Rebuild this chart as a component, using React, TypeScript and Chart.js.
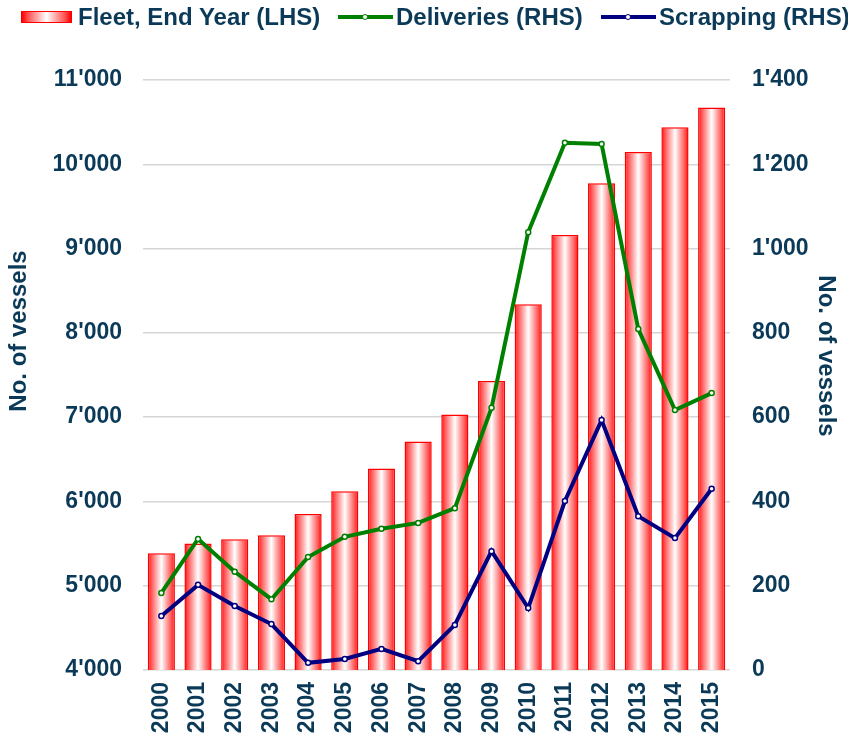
import React, { useEffect, useRef } from "react";
import { Chart, registerables } from "chart.js";

Chart.register(...registerables);

const years = ["2000","2001","2002","2003","2004","2005","2006","2007","2008","2009","2010","2011","2012","2013","2014","2015"];
const fleet = [5385, 5500, 5550, 5600, 5850, 6120, 6390, 6710, 7030, 7430, 8340, 9160, 9775, 10145, 10440, 10675];
const deliveries = [183, 311, 233, 168, 268, 316, 335, 349, 384, 622, 1039, 1251, 1248, 809, 617, 657];
const scrapping = [128, 202, 152, 109, 17, 26, 50, 21, 107, 282, 147, 401, 593, 365, 313, 430];

const TEXT = "#0B3A58";
const FONT = "'Liberation Sans', Arial, sans-serif";
const GREEN = "#008000";
const NAVY = "#000080";

function fmt(v: number) {
  const n = Math.round(v);
  if (n >= 1000) {
    const th = Math.floor(n / 1000);
    const rest = String(n % 1000).padStart(3, "0");
    return th + "'" + rest;
  }
  return String(n);
}

const BAR_PCT = 0.74;

const titlesPlugin = {
  id: "axisTitles",
  afterDraw(chart: any) {
    const ctx = chart.ctx;
    const ca = chart.chartArea;
    const mid = (ca.top + ca.bottom) / 2;
    ctx.save();
    ctx.fillStyle = TEXT;
    ctx.font = `bold 24px ${FONT}`;
    ctx.textAlign = "center";
    ctx.textBaseline = "middle";
    ctx.save();
    ctx.translate(19, mid - 44);
    ctx.rotate(-Math.PI / 2);
    ctx.fillText("No. of vessels", 0, 0);
    ctx.restore();
    ctx.save();
    ctx.translate(826, mid - 19);
    ctx.rotate(Math.PI / 2);
    ctx.fillText("No. of vessels", 0, 0);
    ctx.restore();
    ctx.restore();
  },
};

function barGradient(c: any) {
  const chart = c.chart;
  const xs = chart.scales && chart.scales.x;
  if (!xs || !chart.chartArea || c.dataIndex === undefined) return "#ff0000";
  const cx = xs.getPixelForValue(c.dataIndex);
  const w = (xs.width / years.length) * BAR_PCT;
  const g = chart.ctx.createLinearGradient(cx - w / 2, 0, cx + w / 2, 0);
  g.addColorStop(0, "#ff0000");
  g.addColorStop(0.12, "#ff5050");
  g.addColorStop(0.5, "#ffffff");
  g.addColorStop(0.88, "#ff5050");
  g.addColorStop(1, "#ff0000");
  return g;
}

function LegendLine({ color, left }: { color: string; left: number }) {
  return (
    <div style={{ position: "absolute", left, top: 10, width: 55, height: 14 }}>
      <div style={{ position: "absolute", left: 0, right: 0, top: 5, height: 4, background: color }} />
      <div style={{ position: "absolute", left: 24, top: 4, width: 4, height: 4, borderRadius: 4, background: "#fff", border: `1px solid ${color}` }} />
    </div>
  );
}

export default function App() {
  const ref = useRef<HTMLCanvasElement | null>(null);
  useEffect(() => {
    if (!ref.current) return;
    const chart = new Chart(ref.current, {
      type: "bar",
      data: {
        labels: years,
        datasets: [
          {
            type: "line",
            label: "Scrapping (RHS)",
            data: scrapping,
            yAxisID: "y1",
            borderColor: NAVY,
            borderWidth: 4,
            pointRadius: 2.5,
            pointBackgroundColor: "#ffffff",
            pointBorderColor: NAVY,
            pointBorderWidth: 1.5,
            tension: 0,
            order: 0,
          } as any,
          {
            type: "line",
            label: "Deliveries (RHS)",
            data: deliveries,
            yAxisID: "y1",
            borderColor: GREEN,
            borderWidth: 4,
            pointRadius: 2.5,
            pointBackgroundColor: "#ffffff",
            pointBorderColor: GREEN,
            pointBorderWidth: 1.5,
            tension: 0,
            order: 1,
          } as any,
          {
            type: "bar",
            label: "Fleet, End Year (LHS)",
            data: fleet,
            yAxisID: "y",
            backgroundColor: barGradient,
            borderColor: "#ff0000",
            borderWidth: 1.5,
            categoryPercentage: 1,
            barPercentage: BAR_PCT,
            order: 2,
          } as any,
        ],
      },
      options: {
        responsive: false,
        animation: false,
        layout: { padding: { top: 80, left: 0, right: 0, bottom: 0 } },
        plugins: { legend: { display: false }, tooltip: { enabled: false } },
        scales: {
          x: {
            grid: { display: false, drawTicks: false },
            border: { display: false },
            ticks: {
              color: TEXT,
              font: { family: FONT, size: 23, weight: "bold" },
              minRotation: 90,
              maxRotation: 90,
              padding: 12,
              autoSkip: false,
            },
            afterFit(s: any) { s.height = 69; },
          },
          y: {
            position: "left",
            min: 4000,
            max: 11000,
            grid: { color: "#d6d6d6", lineWidth: 1.5, drawTicks: false },
            border: { display: false },
            ticks: {
              stepSize: 1000,
              color: TEXT,
              font: { family: FONT, size: 23, weight: "bold" },
              padding: 21,
              callback: (v: any) => fmt(Number(v)),
            },
            afterFit(s: any) { s.width = 143; },
          },
          y1: {
            position: "right",
            min: 0,
            max: 1400,
            grid: { display: false, drawTicks: false },
            border: { display: false },
            ticks: {
              stepSize: 200,
              color: TEXT,
              font: { family: FONT, size: 23, weight: "bold" },
              padding: 22,
              callback: (v: any) => fmt(Number(v)),
            },
            afterFit(s: any) { s.width = 118; },
          },
        },
      } as any,
      plugins: [titlesPlugin],
    });
    return () => chart.destroy();
  }, []);

  const legendText: React.CSSProperties = {
    position: "absolute",
    top: 4,
    fontFamily: FONT,
    fontWeight: "bold",
    fontSize: 24,
    color: TEXT,
    whiteSpace: "nowrap",
    lineHeight: "26px",
  };

  return (
    <div style={{ position: "fixed", left: 0, top: 0, width: 848, height: 739, background: "#fff" }}>
      <canvas ref={ref} width={848} height={739} style={{ position: "absolute", left: 0, top: 0, width: 848, height: 739 }} />
      <div style={{ position: "absolute", left: 0, top: 0, width: 848, height: 40 }}>
        <div style={{ position: "absolute", left: 21, top: 11, width: 49, height: 10, border: "1.5px solid #ff0000", background: "linear-gradient(to right, #ff0000, #ff5050 12%, #ffffff 50%, #ff5050 88%, #ff0000)" }} />
        <span style={{ ...legendText, left: 78 }}>Fleet, End Year (LHS)</span>
        <LegendLine color={GREEN} left={338} />
        <span style={{ ...legendText, left: 396 }}>Deliveries (RHS)</span>
        <LegendLine color={NAVY} left={601} />
        <span style={{ ...legendText, left: 659 }}>Scrapping (RHS)</span>
      </div>
    </div>
  );
}
